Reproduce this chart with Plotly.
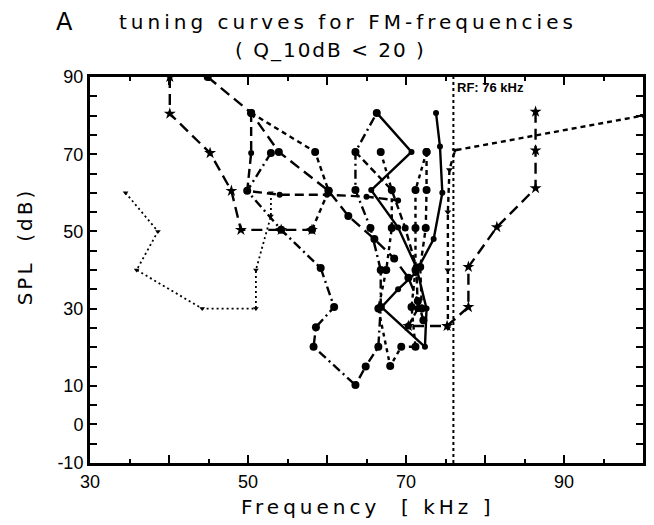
import plotly.graph_objects as go

# ---- data (frequency kHz, SPL dB) ----
c01_f = [34.5, 38.6, 35.9, 44.2, 51.0, 51.0, 52.9, 52.9]
c01_s = [60, 50, 40, 30, 30, 40, 54, 60]

c02_f = [40.1, 40.1, 45.2, 47.9, 49.1, 54.2, 58.1]
c02_s = [90, 80.5, 70.3, 60.5, 50.4, 50.4, 50.4]

c03_f = [44.9, 50.4, 53.9, 60.2, 62.7, 66.0, 68.5, 70.3, 71.5, 72.2]
c03_s = [90, 80.7, 70.6, 60.5, 54, 48, 43, 38, 32, 27]

c04_f = [50.4, 58.5, 60.2, 58.1]
c04_s = [80.7, 70.6, 60.5, 50.4]

c05_f = [50.4, 50.4, 49.9, 54.0, 60.0, 65.0, 69.0]
c05_s = [80.7, 70.3, 60.5, 59.5, 59.5, 59.0, 58.0]

c06_f = [52.9, 49.9, 54.2, 59.2, 60.9, 58.6, 58.3, 63.6, 64.9, 66.5, 66.8, 66.8, 65.5, 63.6, 63.6, 66.3]
c06_s = [70.3, 60.5, 50.4, 40.5, 30.4, 25.2, 20.1, 10.2, 15.0, 20.1, 30.4, 40.0, 50.9, 60.7, 70.6, 80.7]

c07_f = [66.3, 70.7, 65.6, 69.0, 71.3, 72.6, 72.4, 66.9, 69.0, 71.2, 73.5, 74.6, 74.3, 73.8]
c07_s = [80.7, 70.6, 60.7, 51.0, 40.8, 30.0, 20.1, 30.4, 35.0, 39.2, 48.0, 60.0, 72.0, 80.7]

c08_f = [72.6, 72.6, 72.5, 71.8, 72.0]
c08_s = [70.6, 60.7, 50.9, 40.8, 30.0]

c09_f = [63.6, 68.2, 69.9, 71.3, 71.5, 70.3]
c09_s = [70.6, 60.7, 50.9, 40.8, 30.0, 25.5]

c10_f = [66.8, 68.2, 68.2, 67.5, 66.5, 68.0, 69.4, 71.2, 70.7, 71.2, 71.2, 71.2, 72.6]
c10_s = [70.6, 60.7, 50.9, 40.0, 30.0, 15.1, 20.1, 20.1, 30.4, 40.0, 50.9, 60.7, 70.6]

c11_f = [86.4, 86.4, 86.4, 81.5, 77.9, 77.9, 75.2, 70.3]
c11_s = [81.0, 71.0, 61.2, 51.1, 40.8, 30.4, 25.5, 25.5]

c12_f = [75.3, 75.3, 75.3, 75.5, 76.2, 100.0]
c12_s = [25.0, 40.0, 55.0, 66.0, 71.0, 80.0]

curves = [
    (c01_f, c01_s, "2px,3px", 1.8, "triangle-down", 5),
    (c02_f, c02_s, "11px,6px", 2.4, "star", 9),
    (c03_f, c03_s, "11px,6px", 2.4, "circle", 8),
    (c04_f, c04_s, "5px,4px", 2.4, "circle", 8),
    (c05_f, c05_s, "9px,5px", 2.4, "circle", 6),
    (c06_f, c06_s, "9px,4px,2px,4px", 2.4, "circle", 8),
    (c07_f, c07_s, "solid", 2.4, "circle", 6),
    (c08_f, c08_s, "5px,4px", 2.4, "circle", 8),
    (c09_f, c09_s, "7px,4px", 2.4, "circle", 7),
    (c10_f, c10_s, "4px,4px", 2.4, "circle", 8),
    (c11_f, c11_s, "11px,6px", 2.4, "star", 9),
    (c12_f, c12_s, "5px,4px", 2.4, "triangle-down", 6),
]

rf_freq = 76
x_ticks = [30, 40, 50, 60, 70, 80, 90, 100]
x_text = ["30", "", "50", "", "70", "", "90", ""]
y_ticks = [-10, 0, 10, 20, 30, 40, 50, 60, 70, 80, 90]
y_text = ["-10", "0", "10", "", "30", "", "50", "", "70", "", "90"]

fig = go.Figure()
for f, s, dash, w, sym, ms in curves:
    fig.add_trace(go.Scatter(
        x=f, y=s, mode="lines+markers",
        line=dict(color="black", width=w, dash=dash),
        marker=dict(color="black", symbol=sym, size=ms),
        showlegend=False, hoverinfo="skip"))

fig.add_trace(go.Scatter(
    x=[rf_freq, rf_freq], y=[-10, 90], mode="lines",
    line=dict(color="black", width=2, dash="3px,3px"),
    showlegend=False, hoverinfo="skip"))

tickfont = dict(family="Liberation Sans, Arial, sans-serif", size=18, color="black")
fig.update_layout(
    width=654, height=525,
    margin=dict(l=90, r=8, t=77, b=62),
    paper_bgcolor="white", plot_bgcolor="white",
    xaxis=dict(range=[30, 100], tickvals=x_ticks, ticktext=x_text,
               ticks="inside", ticklen=8, tickwidth=1.5, tickcolor="black",
               minor=dict(dtick=5, tick0=30, ticks="inside", ticklen=4, tickcolor="black", tickwidth=1.5),
               showline=True, linewidth=3, linecolor="black", mirror="ticks",
               showgrid=False, zeroline=False, tickfont=tickfont),
    yaxis=dict(range=[-10, 90], tickvals=y_ticks, ticktext=y_text,
               ticks="inside", ticklen=7, tickwidth=1.5, tickcolor="black",
               minor=dict(dtick=5, tick0=0, ticks="inside", ticklen=7, tickcolor="black", tickwidth=1.5),
               showline=True, linewidth=3, linecolor="black", mirror="ticks",
               showgrid=False, zeroline=False, tickfont=tickfont),
)

title_font = dict(family="DejaVu Sans, sans-serif", size=20, color="#000000")
ann = [
    dict(text="A", x=-0.0647, y=1.1425, xanchor="left", font=dict(family="DejaVu Sans", size=24, color="#000000")),
    dict(text='<span style="letter-spacing:4px">tuning curves for FM-frequencies</span>',
         x=0.466, y=1.1425, xanchor="center", font=title_font),
    dict(text='<span style="letter-spacing:2px">( Q_10dB &lt; 20 )</span>',
         x=0.435, y=1.07, xanchor="center", font=title_font),
    dict(text='<span style="letter-spacing:3px">SPL  (dB)</span>', textangle=-90,
         x=-0.117, y=0.562, xanchor="center", font=title_font),
    dict(text='<span style="letter-spacing:4px">Frequency  [ kHz ]</span>',
         x=0.502, y=-0.114, xanchor="center", font=title_font),
]
for a in ann:
    a.update(xref="paper", yref="paper", yanchor="middle", showarrow=False)
    fig.add_annotation(**a)

fig.add_annotation(text="<b>RF: 76 kHz</b>", x=76.2, y=87.2, xref="x", yref="y",
                   xanchor="left", yanchor="middle", showarrow=False,
                   font=dict(family="Liberation Sans, Arial", size=13, color="black"))

fig.write_html("out.html")
